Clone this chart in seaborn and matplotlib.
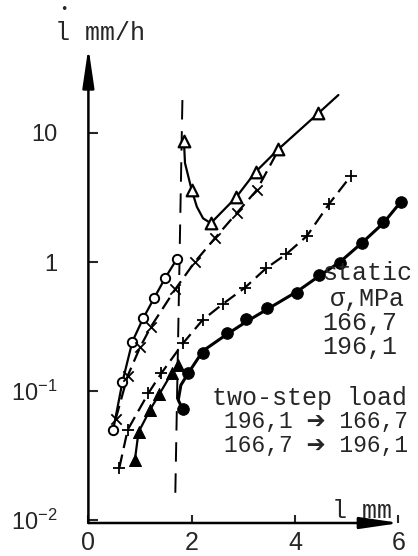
import numpy as np
import pandas as pd
import matplotlib
matplotlib.use("Agg")
import matplotlib.pyplot as plt
import seaborn as sns

# ---------------- data ----------------
# static 166,7 (open circles)
circ_x = [0.48, 0.66, 0.85, 1.06, 1.27, 1.49, 1.71]
circ_y = [0.050, 0.118, 0.241, 0.366, 0.523, 0.756, 1.05]

# crosses (x) with dashed line, joining the open-triangle curve
cross_x = [0.53, 0.76, 1.00, 1.21, 1.68, 2.06, 2.45, 2.87, 3.26]
cross_y = [0.061, 0.131, 0.218, 0.315, 0.614, 1.00, 1.53, 2.39, 3.61]
cross_line_x = cross_x + [3.68]
cross_line_y = cross_y + [7.4]

# open triangles
tri_open_x = [1.85, 2.00, 2.37, 2.86, 3.24, 3.68, 4.45]
tri_open_y = [8.6, 3.61, 2.0, 3.17, 5.01, 7.5, 14.2]
tri_open_line_x = [1.85, 1.87, 2.00, 2.10, 2.22, 2.37, 2.86, 3.24, 3.68, 4.45, 4.84]
tri_open_line_y = [8.6, 5.85, 3.61, 2.68, 2.18, 2.0, 3.17, 5.01, 7.5, 14.2, 19.7]

# plus markers with dashed line
plus_x = [0.60, 0.76, 1.16, 1.41, 1.83, 2.21, 2.60, 3.03, 3.44, 3.83, 4.23, 4.66, 5.08]
plus_y = [0.0255, 0.050, 0.096, 0.137, 0.234, 0.355, 0.472, 0.632, 0.894, 1.15, 1.59, 2.82, 4.64]

# filled triangles
tri_fill_x = [0.90, 0.97, 1.19, 1.37, 1.61, 1.74]
tri_fill_y = [0.0292, 0.048, 0.071, 0.094, 0.137, 0.159]

# filled circles
fc_x = [1.83, 1.93, 2.22, 2.68, 3.06, 3.46, 4.04, 4.47, 4.87, 5.29, 5.71, 6.05]
fc_y = [0.072, 0.137, 0.198, 0.283, 0.36, 0.438, 0.578, 0.793, 0.988, 1.40, 2.05, 2.93]
fc_line_x = [1.83, 1.74, 1.79, 1.93, 2.22, 2.68, 3.06, 3.46, 4.04, 4.47, 4.87, 5.29, 5.71, 6.05]
fc_line_y = [0.072, 0.085, 0.111, 0.137, 0.205, 0.275, 0.345, 0.43, 0.59, 0.78, 1.0, 1.40, 2.0, 2.93]

# load-switch dashed line
switch_x = [1.82, 1.68]
switch_y = [18.0, 0.014]

ytick_vals = [0.01, 0.1, 1, 10]
ytick_labels = [r"10$^{-2}$", r"10$^{-1}$", "1", "10"]
xtick_vals = [0, 2, 4, 6]
xtick_labels = ["0", "2", "4", "6"]

legend_lines = ["static", "\u03c3,MPa", "166,7", "196,1"]
two_step_lines = ["two-step load", "196,1 \u2794 166,7", "166,7 \u2794 196,1"]

# ---------------- style ----------------
sns.set_style("white")
plt.rcParams["font.family"] = ["Liberation Sans", "DejaVu Sans"]
plt.rcParams["mathtext.fontset"] = "custom"
plt.rcParams["mathtext.rm"] = "Liberation Sans"
plt.rcParams["mathtext.it"] = "Liberation Sans"
plt.rcParams["mathtext.bf"] = "Liberation Sans"

W, H = 418, 556
fig = plt.figure(figsize=(W / 100, H / 100), dpi=100)
ax_left, ax_bottom_px, ax_right_px, ax_top_px = 88.4, 523, 413.8, 45
ax = fig.add_axes([ax_left / W, 1 - ax_bottom_px / H,
                   (ax_right_px - ax_left) / W, (ax_bottom_px - ax_top_px) / H])
ax.set_yscale("log")
xmin, xmax = 0, 6.3
ymin, ymax = 10 ** -2.023, 10 ** 1.682
ax.set_xlim(xmin, xmax)
ax.set_ylim(ymin, ymax)
for s in ax.spines.values():
    s.set_visible(False)

mono = ["Liberation Mono", "DejaVu Sans"]

# ---------------- curves ----------------
def line(x, y, ls="-", lw=1.6):
    sns.lineplot(x=x, y=y, ax=ax, sort=False, estimator=None, color="black",
                 lw=lw, linestyle=ls, zorder=2)

line(circ_x, circ_y)
line(cross_line_x, cross_line_y, ls=(0, (6, 3)))
line(tri_open_line_x, tri_open_line_y)
line(plus_x, plus_y, ls=(0, (6, 3)))
line(tri_fill_x, tri_fill_y)
line(fc_line_x, fc_line_y, lw=2.2)
line(switch_x, switch_y, ls=(0, (10, 6)), lw=1.4)

# ---------------- markers ----------------
sns.scatterplot(x=circ_x, y=circ_y, ax=ax, marker="o", s=45, facecolor="white",
                edgecolor="black", linewidth=1.4, zorder=3)
sns.scatterplot(x=cross_x, y=cross_y, ax=ax, marker="x", s=55, color="black",
                linewidth=1.3, zorder=3)
sns.scatterplot(x=tri_open_x, y=tri_open_y, ax=ax, marker="^", s=70, facecolor="white",
                edgecolor="black", linewidth=1.6, zorder=3)
sns.scatterplot(x=plus_x, y=plus_y, ax=ax, marker="+", s=80, color="black",
                linewidth=1.3, zorder=3)
sns.scatterplot(x=tri_fill_x, y=tri_fill_y, ax=ax, marker="^", s=75, color="black",
                edgecolor="black", zorder=3)
sns.scatterplot(x=fc_x, y=fc_y, ax=ax, marker="o", s=70, color="black",
                edgecolor="black", zorder=3)

# ---------------- axes with arrows ----------------
arrow_kw = dict(arrowstyle="-|>,head_length=1.5,head_width=0.22", lw=1.8,
                color="black", mutation_scale=16, shrinkA=0, shrinkB=0)
ax.annotate("", xy=(6.03, ymin), xytext=(0, ymin), xycoords="data",
            arrowprops=arrow_kw, annotation_clip=False)
ax.annotate("", xy=(0, 46), xytext=(0, ymin), xycoords="data",
            arrowprops=arrow_kw, annotation_clip=False)

ax.set_yticks(ytick_vals)
ax.set_yticklabels(ytick_labels)
ax.yaxis.set_minor_locator(matplotlib.ticker.NullLocator())
ax.set_xticks(xtick_vals)
ax.set_xticklabels(xtick_labels)
ax.tick_params(axis="y", direction="in", length=7, width=1.5, pad=22,
               labelsize=17, left=True)
ax.tick_params(axis="x", direction="in", length=6, width=1.5, pad=6,
               labelsize=18, bottom=True)
ax.grid(False)

# ---------------- texts ----------------
def ftext(px, py, s, size=18, **kw):
    fig.text(px / W, 1 - py / H, s, fontsize=size, ha="left", va="center",
             family=mono, **kw)

ftext(55, 33, "l mm/h")
fig.text(64 / W, 1 - 10 / H, "\u2022", fontsize=9, ha="center", va="center",
         family=["DejaVu Sans"])
ftext(332, 511, "l mm")

ftext(323, 273, legend_lines[0])
ftext(330, 299, legend_lines[1])
ftext(322, 323, legend_lines[2])
ftext(322, 347, legend_lines[3])
ftext(212, 398, two_step_lines[0])
ftext(224, 422, two_step_lines[1], size=16.5)
ftext(224, 446, two_step_lines[2], size=16.5)

fig.savefig("out.png", dpi=100)
